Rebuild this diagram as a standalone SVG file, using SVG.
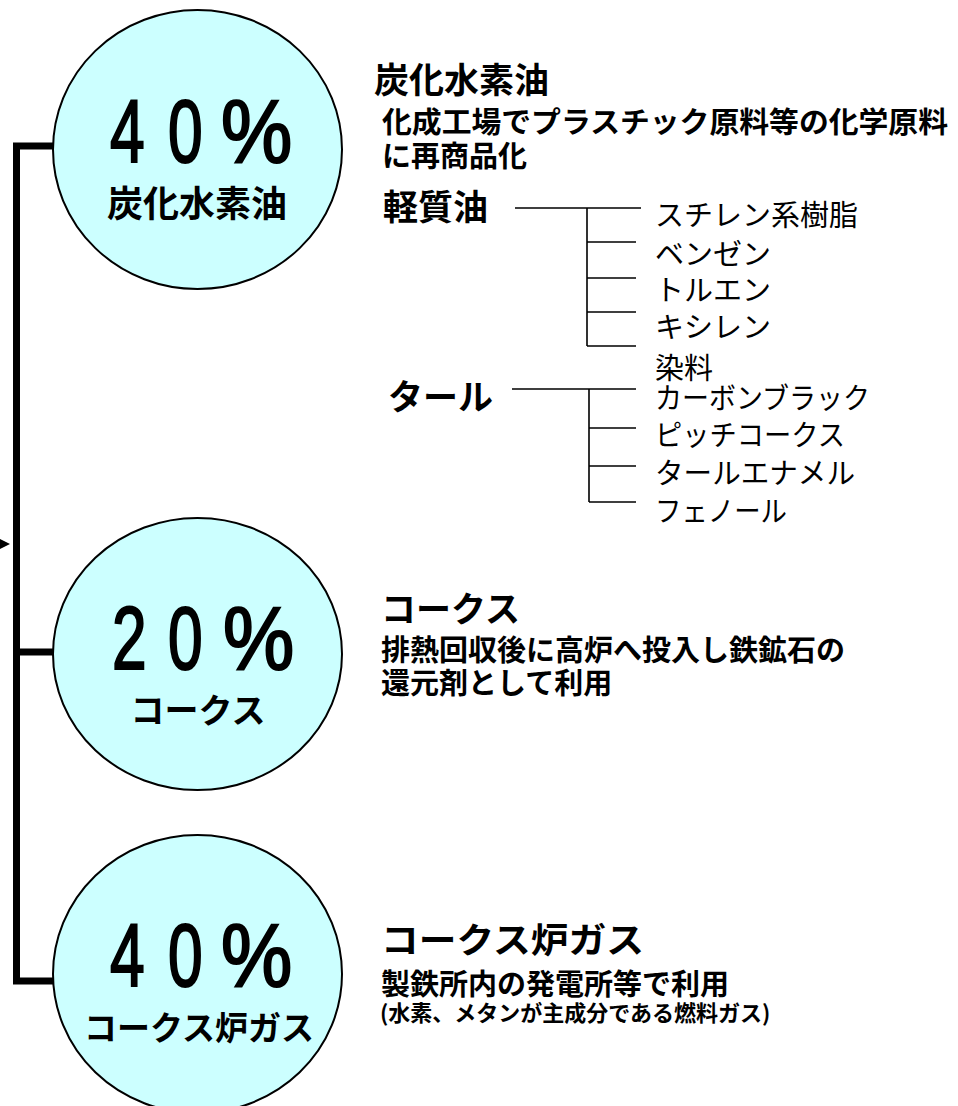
<svg xmlns="http://www.w3.org/2000/svg" width="958" height="1106" viewBox="0 0 958 1106">
<style>
.bg{fill:#ffffff}
.circ{fill:#ccffff;stroke:#000;stroke-width:2}
.num{font-family:"Liberation Sans",Arial,sans-serif;font-size:89px;fill:#000;stroke:#000;stroke-width:2.2}
.clab{font-family:"Noto Sans CJK JP",sans-serif;font-weight:700;fill:#000;text-anchor:middle}
.title{font-family:"Noto Sans CJK JP",sans-serif;font-weight:700;font-size:35px;fill:#000}
.desc{font-family:"Noto Sans CJK JP",sans-serif;font-weight:700;font-size:29px;fill:#000}
.item{font-family:"Noto Sans CJK JP",sans-serif;font-weight:400;font-size:29px;fill:#000}
.small{font-family:"Noto Sans CJK JP",sans-serif;font-weight:700;font-size:22px;fill:#000}
.thick{fill:none;stroke:#000;stroke-width:7;stroke-linejoin:miter}
.thin{fill:none;stroke:#000;stroke-width:1.6}
</style>
<rect class="bg" x="0" y="0" width="958" height="1106"/>

<g id="connectors">
  <path class="thick" d="M53,146 H16.5 V981 H53"/>
  <path class="thick" d="M16.5,652 H53"/>
  <polygon points="0,539 10,544 0,549" fill="#000"/>
  <path class="thin" d="M515,208 H641 M587,208 V346 M587,242 H636 M587,278 H636 M587,312 H636 M587,346 H636"/>
  <path class="thin" d="M512,389 H636 M589,389 V502 M589,428 H636 M589,466 H636 M589,502 H636"/>
</g>

<g id="node-hydrocarbon">
  <ellipse class="circ" cx="197.5" cy="149.5" rx="144.5" ry="139.5"/>
  <text class="num" transform="translate(110,162) scale(0.7,1)">4</text>
  <text class="num" transform="translate(168,162) scale(0.7,1)">0</text>
  <text class="num" transform="translate(221,162) scale(0.9,1)">%</text>
  <text class="clab" x="197" y="217" font-size="36">炭化水素油</text>
</g>

<g id="node-coke">
  <ellipse class="circ" cx="197.5" cy="654" rx="144.5" ry="136"/>
  <text class="num" transform="translate(112,669) scale(0.7,1)">2</text>
  <text class="num" transform="translate(168,669) scale(0.7,1)">0</text>
  <text class="num" transform="translate(223,669) scale(0.9,1)">%</text>
  <text class="clab" x="198" y="723" font-size="34">コークス</text>
</g>

<g id="node-gas">
  <ellipse class="circ" cx="197.5" cy="974" rx="144.5" ry="139"/>
  <text class="num" transform="translate(110,986) scale(0.7,1)">4</text>
  <text class="num" transform="translate(168,986) scale(0.7,1)">0</text>
  <text class="num" transform="translate(221,986) scale(0.9,1)">%</text>
  <text class="clab" x="199" y="1040" font-size="33">コークス炉ガス</text>
</g>

<g id="desc-hydrocarbon">
  <text class="title" x="374" y="93">炭化水素油</text>
  <text class="desc" x="382" y="133" textLength="566" lengthAdjust="spacingAndGlyphs">化成工場でプラスチック原料等の化学原料</text>
  <text class="desc" x="382" y="167">に再商品化</text>
  <text class="title" x="383" y="220">軽質油</text>
  <text class="item" x="655" y="226">スチレン系樹脂</text>
  <text class="item" x="655" y="265">ベンゼン</text>
  <text class="item" x="655" y="301">トルエン</text>
  <text class="item" x="655" y="338">キシレン</text>
  <text class="item" x="655" y="379">染料</text>
  <text class="title" x="388" y="410">タール</text>
  <text class="item" x="655" y="409" textLength="215" lengthAdjust="spacingAndGlyphs">カーボンブラック</text>
  <text class="item" x="655" y="446" textLength="190" lengthAdjust="spacingAndGlyphs">ピッチコークス</text>
  <text class="item" x="655" y="484" textLength="200" lengthAdjust="spacingAndGlyphs">タールエナメル</text>
  <text class="item" x="655" y="522" textLength="132" lengthAdjust="spacingAndGlyphs">フェノール</text>
</g>

<g id="desc-coke">
  <text class="title" x="381" y="622" font-size="33">コークス</text>
  <text class="desc" x="381" y="661">排熱回収後に高炉へ投入し鉄鉱石の</text>
  <text class="desc" x="381" y="694">還元剤として利用</text>
</g>

<g id="desc-gas">
  <text class="title" x="381" y="953" font-size="37" textLength="263" lengthAdjust="spacingAndGlyphs">コークス炉ガス</text>
  <text class="desc" x="381" y="995">製鉄所内の発電所等で利用</text>
  <text class="small" x="380" y="1021">(水素、メタンが主成分である燃料ガス)</text>
</g>
</svg>
